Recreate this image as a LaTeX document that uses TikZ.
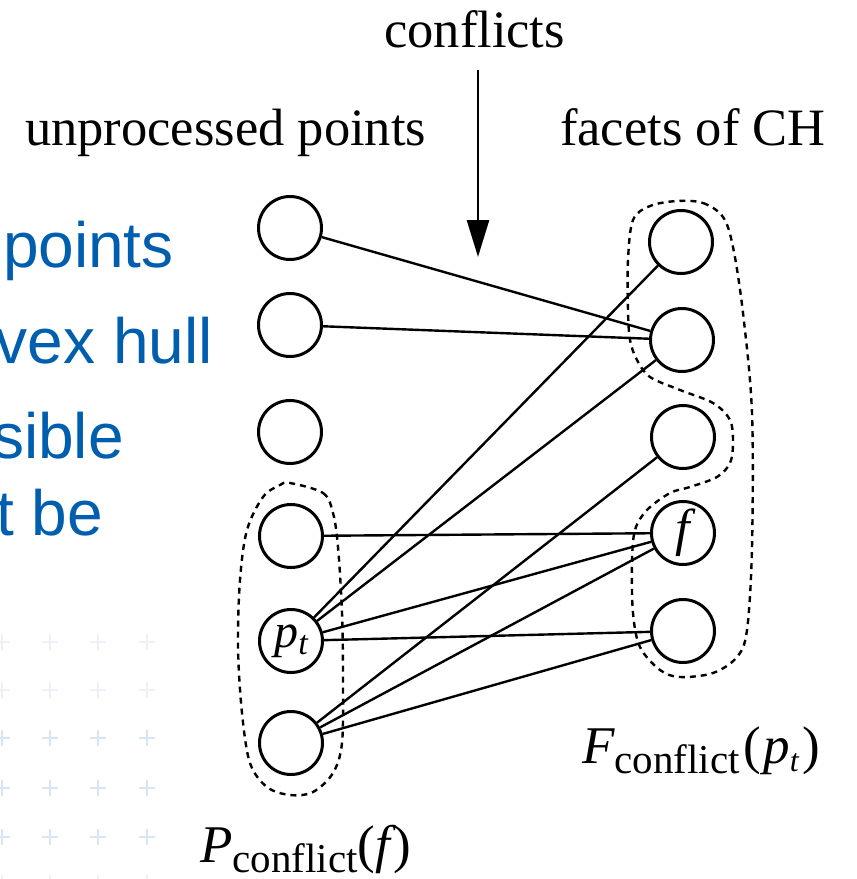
\documentclass[tikz,border=0pt]{standalone}
\usepackage{fontspec}
\setmainfont{Liberation Serif}
\newfontfamily\slidefont{Liberation Sans}
\usetikzlibrary{arrows.meta}
\definecolor{slideblue}{RGB}{0,94,174}
\definecolor{gridblue}{RGB}{214,230,245}
\definecolor{gridfaint}{RGB}{234,241,249}
\tikzset{
  pt/.style={circle,draw,line width=3pt,minimum size=63pt,inner sep=0pt},
  conn/.style={line width=2.4pt},
  grp/.style={line width=2.4pt,dash pattern=on 6pt off 5pt},
  lbl/.style={anchor=base west,inner sep=0pt,font=\fontsize{52.5}{60}\selectfont},
  blue/.style={anchor=base east,inner sep=0pt,text=slideblue,font=\slidefont\fontsize{64}{70}\selectfont},
  plusmark/.style={line width=1.4pt}
}
\begin{document}
\begin{tikzpicture}[x=1pt,y=-1pt]
\path[use as bounding box] (0,0) rectangle (857,879);
\clip (0,0) rectangle (857,879);
\fill[white] (0,0) rectangle (857,879);
% faint background grid of pluses
\foreach \gx in {2,50,98,147}{
  \foreach \gy/\gc in {642/gridfaint,690/gridfaint,738/gridblue,788/gridblue,837/gridblue,883/gridfaint}{
    \draw[plusmark,\gc] (\gx-8,\gy) -- (\gx+8,\gy) (\gx,\gy-8) -- (\gx,\gy+8);
  }
}
% cut-off slide text
\node[blue] (b1) at (174,267) {points};
\node[blue] (b2) at (213,363) {vex hull};
\node[blue] (b3) at (124,458) {sible};
\node[blue] (b4) at (103,535) {t be};
% labels
\node[lbl] (conf) at (384,47) {conflicts};
\node[lbl] (unp) at (25,145) {unprocessed points};
\node[lbl] (fac) at (560,145) {facets of CH};
\coordinate (arrs) at (478,70);
\coordinate (arre) at (478,257);
\draw[line width=2.6pt,-{Triangle[length=37pt,width=22pt]}] (arrs) -- (arre);
% group outlines
\draw[grp] plot[smooth cycle,tension=0.55] coordinates {
 (290,483) (323,493) (333,513) (338,547) (342,613) (343,680) (342,743) (333,773)
 (313,792) (290,795) (267,787) (250,763) (242,713) (238,647) (240,580) (247,530)
 (263,497) (280,485)};
\draw[grp] plot[smooth cycle,tension=0.55] coordinates {
 (677,201) (703,203) (723,217) (733,247) (743,313) (752,413) (752,547) (747,630)
 (737,657) (713,673) (680,677) (660,670) (640,647) (633,613) (632,563) (635,530)
 (647,510) (670,493) (690,487) (717,477) (730,463) (733,443) (730,420) (713,403)
 (680,390) (650,377) (637,360) (630,340) (628,310) (628,260) (633,220) (650,206)};
% points
\node[pt] (l1) at (290,228) {};
\node[pt] (l2) at (290,325) {};
\node[pt] (l3) at (290,432) {};
\node[pt] (l4) at (291,536) {};
\node[pt,font=\fontsize{48}{52}\selectfont\itshape] (pt) at (291,641) {p\raisebox{-7pt}{\fontsize{34}{38}\selectfont t}};
\node[pt] (l6) at (291,743) {};
% facets
\node[pt] (r1) at (681,242) {};
\node[pt] (r2) at (682,340) {};
\node[pt] (r3) at (683,437) {};
\node[pt,font=\fontsize{52}{56}\selectfont\itshape] (rf) at (683,533) {f};
\node[pt] (r5) at (683,631) {};
% conflict edges
\draw[conn] (l1) -- (r2);
\draw[conn] (l2) -- (r2);
\draw[conn] (l4) -- (rf);
\draw[conn] (pt) -- (r1);
\draw[conn] (pt) -- (r2);
\draw[conn] (pt) -- (rf);
\draw[conn] (pt) -- (r5);
\draw[conn] (l6) -- (r3);
\draw[conn] (l6) -- (rf);
\draw[conn] (l6) -- (r5);
% set labels
\node[anchor=base west,inner sep=0pt] (fconf) at (582,763) {\fontsize{53}{60}\selectfont\itshape F\raisebox{-10pt}{\fontsize{41}{45}\selectfont\upshape conflict}\kern4pt\upshape(\kern2pt\itshape p\raisebox{-8pt}{\fontsize{32}{36}\selectfont t}\kern4pt\upshape)};
\node[anchor=base west,inner sep=0pt] (pconf) at (200,862) {\fontsize{53}{60}\selectfont\itshape P\raisebox{-10pt}{\fontsize{41}{45}\selectfont\upshape conflict}\upshape(\itshape f\kern3pt\upshape)};
\end{tikzpicture}
\end{document}
